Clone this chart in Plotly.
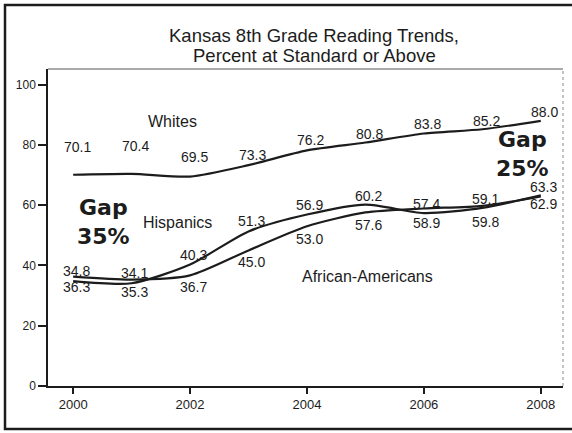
import plotly.graph_objects as go

# ---- data ----
years = [2000, 2001, 2002, 2003, 2004, 2005, 2006, 2007, 2008]
whites = [70.1, 70.4, 69.5, 73.3, 78.2, 80.8, 83.8, 85.2, 88.0]
hispanics = [34.8, 34.1, 40.3, 51.3, 56.9, 60.2, 57.4, 59.1, 63.3]
african_americans = [36.3, 35.3, 36.7, 45.0, 53.0, 57.6, 58.9, 59.8, 62.9]
value_labels_w = ["70.1", "70.4", "69.5", "73.3", "76.2", "80.8", "83.8", "85.2", "88.0"]
value_labels_h = ["34.8", "34.1", "40.3", "51.3", "56.9", "60.2", "57.4", "59.1", "63.3"]
value_labels_a = ["36.3", "35.3", "36.7", "45.0", "53.0", "57.6", "58.9", "59.8", "62.9"]
x_ticks = [2000, 2002, 2004, 2006, 2008]
y_ticks = [0, 20, 40, 60, 80, 100]
title_lines = ["Kansas 8th Grade Reading Trends,", "Percent at Standard or Above"]

# ---- layout geometry ----
W, H = 572, 433
ML, MR, MT, MB = 48, 9, 69, 47
PW, PH = W - ML - MR, H - MT - MB
XR = [1999.57, 2008.38]
YR = [0, 105.2]

def px(xp):  # pixel -> paper x
    return (xp - ML) / PW

def py(yp):  # pixel -> paper y
    return (H - MB - yp) / PH

FONT = "Liberation Sans, Arial, sans-serif"
INK = "#1c1c1c"

fig = go.Figure()
for ys in (whites, hispanics, african_americans):
    fig.add_trace(go.Scatter(
        x=years, y=ys, mode="lines",
        line=dict(color=INK, width=2.2, shape="spline", smoothing=0.7),
        hoverinfo="skip", showlegend=False))

ann = []
C = dict(xanchor="center", yanchor="middle", showarrow=False)
# value labels
w_shift = [28, 28, 20, 10, 10, 9, 9, 8, 9]
for x, y, t, s in zip(years, whites, value_labels_w, w_shift):
    ann.append(dict(x=x, y=y, text=t, xshift=4, yshift=s,
                    font=dict(family=FONT, size=14, color=INK), **C))
h_shift = [10, 10, 10, 10, 10, 9, 9, 9, 8]
for x, y, t, s in zip(years, hispanics, value_labels_h, h_shift):
    ann.append(dict(x=x, y=y, text=t, xshift=3, yshift=s,
                    font=dict(family=FONT, size=14, color=INK), **C))
a_shift = [-10, -12, -12, -12, -13, -13, -14, -16, -8]
for x, y, t, s in zip(years, african_americans, value_labels_a, a_shift):
    ann.append(dict(x=x, y=y, text=t, xshift=3, yshift=s,
                    font=dict(family=FONT, size=14, color=INK), **C))

# series names
for txt, cx, cy in [("Whites", 172, 121), ("Hispanics", 177, 222),
                    ("African-Americans", 367, 276)]:
    ann.append(dict(xref="paper", yref="paper", x=px(cx), y=py(cy), text=txt,
                    font=dict(family=FONT, size=16, color=INK), **C))

# gap labels
for txt, cx, cy in [("Gap<br>35%", 103, 222), ("Gap<br>25%", 522, 154)]:
    ann.append(dict(xref="paper", yref="paper", x=px(cx), y=py(cy), text=txt,
                    align="center",
                    font=dict(family="DejaVu Sans", size=22, color=INK, weight="bold"), **C))

# title
ann.append(dict(xref="paper", yref="paper", x=px(314), y=py(36), text=title_lines[0],
                font=dict(family=FONT, size=18.5, color=INK), **C))
ann.append(dict(xref="paper", yref="paper", x=px(314), y=py(55), text=title_lines[1],
                font=dict(family=FONT, size=18.5, color=INK), **C))

shapes = [
    # outer frame
    dict(type="rect", xref="paper", yref="paper", x0=px(5), x1=px(580), y0=py(429), y1=py(5),
         line=dict(color=INK, width=2.5)),
    # top border of plot area
    dict(type="line", xref="paper", yref="paper", x0=0, x1=1, y0=1, y1=1,
         line=dict(color="#555555", width=1)),
    # right border of plot area
    dict(type="line", xref="paper", yref="paper", x0=1, x1=1, y0=0, y1=1,
         line=dict(color="#888888", width=1, dash="dot")),
]

fig.update_layout(
    width=W, height=H,
    margin=dict(l=ML, r=MR, t=MT, b=MB),
    paper_bgcolor="white", plot_bgcolor="white",
    annotations=ann, shapes=shapes,
    xaxis=dict(range=XR, tickvals=x_ticks, ticktext=[str(v) for v in x_ticks],
               ticks="outside", ticklen=6, tickwidth=1.5, tickcolor=INK,
               showline=True, linecolor=INK, linewidth=1.5, showgrid=False, zeroline=False,
               tickfont=dict(family=FONT, size=13, color=INK), fixedrange=True),
    yaxis=dict(range=YR, tickvals=y_ticks, ticks="outside", ticklen=8, tickwidth=1.5,
               tickcolor=INK, showline=True, linecolor=INK, linewidth=1.5,
               showgrid=False, zeroline=False,
               tickfont=dict(family=FONT, size=12, color=INK), fixedrange=True),
)

fig.write_html("out.html")
